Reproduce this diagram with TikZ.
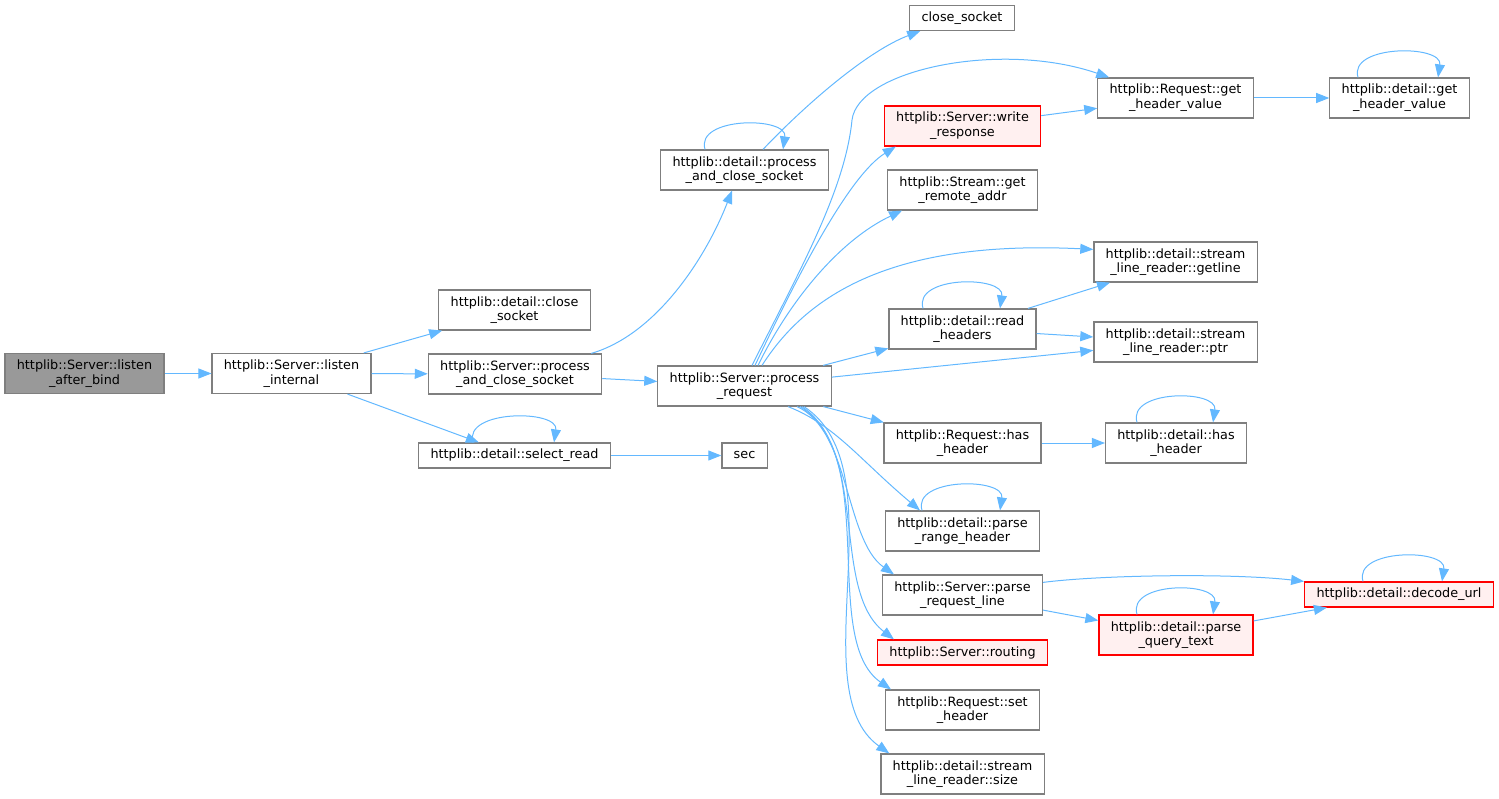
\documentclass[tikz,border=0pt]{standalone}
\usepackage{fontspec}
\setmainfont{DejaVu Sans}
\usepackage{tikz}
\usetikzlibrary{arrows}
\usetikzlibrary{arrows.meta}

\definecolor{edgeblue}{HTML}{63B8FF}
\definecolor{boxgray}{HTML}{7F7F7F}
\definecolor{rootfill}{HTML}{999999}
\definecolor{redfill}{HTML}{FFF0F0}

\begin{document}
\begin{tikzpicture}[x=1pt,y=-1pt,
  fn/.style={draw=boxgray,line width=1.2pt,fill=white,align=center,inner xsep=11.8pt,inner ysep=1pt,
    minimum height=40pt,font=\fontsize{12.8}{14.7}\selectfont},
  fnone/.style={fn,minimum height=25pt},
  root/.style={fill=rootfill},
  undoc/.style={draw=red,fill=redfill},
  call/.style={draw=edgeblue,line width=1pt,-{Triangle[length=13pt,width=10pt]}}]
\useasboundingbox (0,0) rectangle (1499,799);

% first column
\node[fn,root] (listenbind) at (84.5,373.5) {httplib::Server::listen\\\_after\_bind};
\node[fn] (listenint) at (291.5,373.5) {httplib::Server::listen\\\_internal};

% second column
\node[fn] (closesockd) at (514.5,310) {httplib::detail::close\\\_socket};
\node[fn] (pcsserver) at (515,374) {httplib::Server::process\\\_and\_close\_socket};
\node[fnone] (selread) at (514.5,455.5) {httplib::detail::select\_read};

% third column
\node[fn] (pcsdetail) at (744.5,170) {httplib::detail::process\\\_and\_close\_socket};
\node[fn] (procreq) at (744.5,386) {httplib::Server::process\\\_request};
\node[fnone] (sec) at (744.5,455.5) {sec};

% fourth column
\node[fnone] (closesock) at (962,18) {close\_socket};
\node[fn,undoc] (writeresp) at (962.5,126) {httplib::Server::write\\\_response};
\node[fn] (remaddr) at (962.5,190) {httplib::Stream::get\\\_remote\_addr};
\node[fn] (readhdr) at (962.5,329) {httplib::detail::read\\\_headers};
\node[fn] (reqhash) at (962.5,443) {httplib::Request::has\\\_header};
\node[fn] (parserange) at (962.5,531) {httplib::detail::parse\\\_range\_header};
\node[fn] (parsereqline) at (962.5,595) {httplib::Server::parse\\\_request\_line};
\node[fnone,undoc] (routing) at (962.5,652.5) {httplib::Server::routing};
\node[fn] (sethdr) at (962.5,710) {httplib::Request::set\\\_header};
\node[fn] (lrsize) at (962.5,774) {httplib::detail::stream\\\_line\_reader::size};

% fifth column
\node[fn] (reqgethv) at (1175.5,98) {httplib::Request::get\\\_header\_value};
\node[fn] (getline) at (1175.5,262) {httplib::detail::stream\\\_line\_reader::getline};
\node[fn] (lrptr) at (1175.5,342) {httplib::detail::stream\\\_line\_reader::ptr};
\node[fn] (dethash) at (1176,443) {httplib::detail::has\\\_header};
\node[fn,undoc] (parseqt) at (1176,635) {httplib::detail::parse\\\_query\_text};

% last column
\node[fn] (detgethv) at (1399.5,98) {httplib::detail::get\\\_header\_value};
\node[fnone,undoc] (decodeurl) at (1399,594.5) {httplib::detail::decode\_url};

% calls
\draw[call] (listenbind) -- (listenint);
\draw[call] (listenint) -- (closesockd);
\draw[call] (listenint) -- (pcsserver);
\draw[call] (listenint) -- (selread);
\draw[call] ([xshift=-11pt]pcsserver.north east) .. controls (655,335) and (705,260) .. ([xshift=-12.5pt]pcsdetail.south);
\draw[call] (pcsserver) -- (procreq);
\draw[call] (selread) -- (sec);
\draw[call] ([xshift=18.5pt]pcsdetail.north) .. controls (810,100) and (870,50) .. ([xshift=11pt]closesock.south west);

\draw[call] ([xshift=7.5pt]procreq.north) .. controls (800,270) and (845,190) .. (852,120)
  .. controls (858,70) and (1000,40) .. ([xshift=12pt]reqgethv.north west);
\draw[call] ([xshift=10.5pt]procreq.north) .. controls (800,270) and (850,175) .. ([xshift=12pt]writeresp.south west);
\draw[call] ([xshift=13.5pt]procreq.north) .. controls (790,300) and (840,240) .. ([xshift=15pt]remaddr.south west);
\draw[call] ([xshift=17.5pt]procreq.north) .. controls (810,290) and (900,240) .. ([yshift=-8pt]getline.north west);
\draw[call] (procreq) -- (readhdr);
\draw[call] (procreq) -- (lrptr);
\draw[call] (procreq) -- (reqhash);
\draw[call] ([xshift=43.5pt]procreq.south) .. controls (835,425) and (860,460) .. ([xshift=-42.5pt]parserange.north);
\draw[call] ([xshift=52.5pt]procreq.south) .. controls (850,430) and (845,540) .. ([xshift=12pt]parsereqline.north west);
\draw[call] ([xshift=55.5pt]procreq.south) .. controls (870,450) and (830,590) .. ([xshift=17pt]routing.north west);
\draw[call] ([xshift=57.5pt]procreq.south) .. controls (880,460) and (820,640) .. ([xshift=6pt]sethdr.north west);
\draw[call] ([xshift=59.5pt]procreq.south) .. controls (900,470) and (800,690) .. ([xshift=9pt]lrsize.north west);

\draw[call] (writeresp) -- (reqgethv);
\draw[call] (reqgethv) -- (detgethv);
\draw[call] (readhdr) -- (getline);
\draw[call] (readhdr) -- (lrptr);
\draw[call] (reqhash) -- (dethash);
\draw[call] ([yshift=-8pt]parsereqline.north east) .. controls (1100,575) and (1230,573) .. (decodeurl.north west);
\draw[call] (parsereqline) -- (parseqt);
\draw[call] (parseqt) -- (decodeurl);

% recursive calls
\draw[call] ([xshift=-41.5pt]selread.north) .. controls +(-10,-33) and +(5,-33) .. ([xshift=39.5pt]selread.north);
\draw[call] ([xshift=-39.5pt]pcsdetail.north) .. controls +(-10,-33) and +(5,-33) .. ([xshift=38.5pt]pcsdetail.north);
\draw[call] ([xshift=-39.5pt]readhdr.north) .. controls +(-10,-33) and +(5,-33) .. ([xshift=37.5pt]readhdr.north);
\draw[call] ([xshift=-40.5pt]parserange.north) .. controls +(-10,-33) and +(5,-33) .. ([xshift=37.5pt]parserange.north);
\draw[call] ([xshift=-39pt]dethash.north) .. controls +(-10,-33) and +(5,-33) .. ([xshift=37pt]dethash.north);
\draw[call] ([xshift=-36pt]decodeurl.north) .. controls +(-10,-33) and +(5,-33) .. ([xshift=43pt]decodeurl.north);
\draw[call] ([xshift=-39pt]parseqt.north) .. controls +(-10,-33) and +(5,-33) .. ([xshift=37pt]parseqt.north);
\draw[call] ([xshift=-41.5pt]detgethv.north) .. controls +(-10,-33) and +(5,-33) .. ([xshift=38.5pt]detgethv.north);
\end{tikzpicture}
\end{document}
